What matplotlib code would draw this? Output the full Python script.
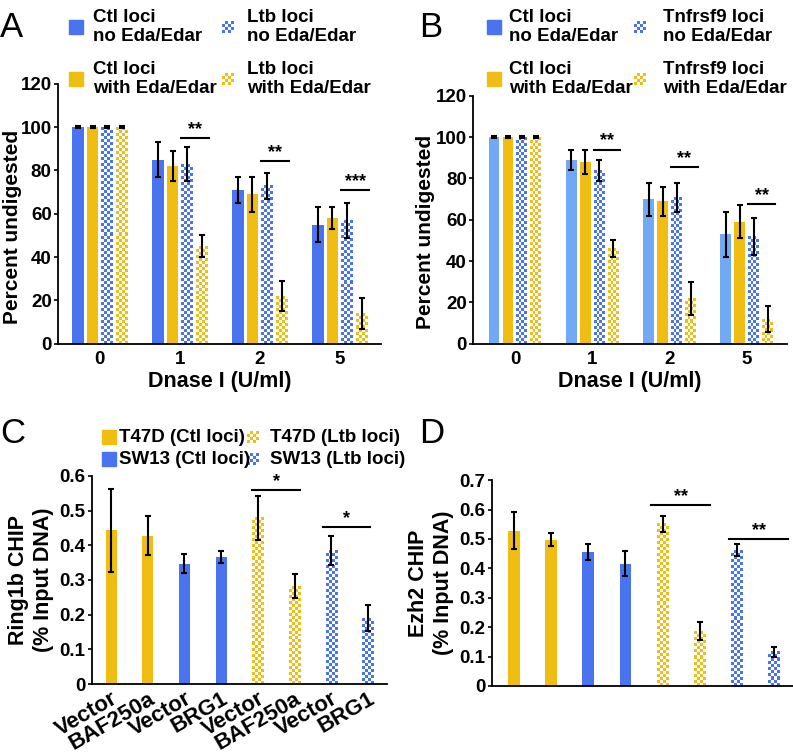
import numpy as np
import matplotlib
matplotlib.use('Agg')
import matplotlib.pyplot as plt
from matplotlib.colors import ListedColormap
from matplotlib.patches import Rectangle

plt.rcParams['font.family'] = ['Liberation Sans', 'DejaVu Sans']
plt.rcParams['font.weight'] = 'bold'

BLUE = '#4a73f0'
LIGHTBLUE = '#72a9f4'
GOLD = '#f0bd12'

# ---- panel A / B data (Dnase I sensitivity) ----
dnase = ['0', '1', '2', '5']

a_ctl_no = [100, 85, 71, 55]
a_ctl_no_err = [0.4, 8, 6, 8]
a_ctl_with = [100, 82, 69, 58]
a_ctl_with_err = [0.4, 7, 8, 5]
a_ltb_no = [100, 83, 73, 57]
a_ltb_no_err = [0.4, 8, 6, 8]
a_ltb_with = [100, 45, 22, 14]
a_ltb_with_err = [0.4, 5, 7, 7]
a_sig = ['', '**', '**', '***']
a_sig_y = [None, 95, 84.5, 71]

b_ctl_no = [100, 89, 70, 53]
b_ctl_no_err = [0.4, 5, 8, 11]
b_ctl_with = [100, 88, 69, 59]
b_ctl_with_err = [0.4, 6, 7, 8]
b_tnf_no = [100, 84, 71, 52]
b_tnf_no_err = [0.4, 5, 7, 9]
b_tnf_with = [100, 46, 22, 12]
b_tnf_with_err = [0.4, 4, 8, 6.5]
b_sig = ['', '**', '**', '**']
b_sig_y = [None, 94, 85.5, 67.5]

# ---- panel C / D data (ChIP) ----
chip_labels = ['Vector', 'BAF250a', 'Vector', 'BRG1', 'Vector', 'BAF250a', 'Vector', 'BRG1']
chip_colors = [GOLD, GOLD, BLUE, BLUE, GOLD, GOLD, BLUE, BLUE]
chip_checker = [False, False, False, False, True, True, True, True]

ring1b = [0.443, 0.428, 0.347, 0.366, 0.479, 0.282, 0.386, 0.19]
ring1b_err = [0.12, 0.057, 0.027, 0.017, 0.064, 0.035, 0.042, 0.037]
ezh2 = [0.528, 0.497, 0.457, 0.416, 0.551, 0.187, 0.462, 0.116]
ezh2_err = [0.062, 0.022, 0.027, 0.043, 0.026, 0.032, 0.021, 0.017]


def checker(ax, x, h, w, color, px=3.0, ncols=4):
    y0, y1 = ax.get_ylim()
    hpx = ax.get_window_extent().height
    nrows = max(1, int(round(h / (px * (y1 - y0) / hpx))))
    arr = np.add.outer(np.arange(nrows), np.arange(ncols)) % 2
    ax.imshow(arr, extent=(x - w / 2, x + w / 2, 0, h), aspect='auto',
              interpolation='nearest', origin='lower',
              cmap=ListedColormap(['white', color]), zorder=2)


def style(ax):
    for s in ['top', 'right']:
        ax.spines[s].set_visible(False)
    ax.spines['left'].set_linewidth(1.3)
    ax.spines['bottom'].set_linewidth(1.3)
    ax.tick_params(axis='x', length=0, labelsize=13.5, pad=5)
    ax.tick_params(axis='y', length=3, width=1.2, labelsize=13.5, direction='out', pad=1.5)


def sig_line(ax, x0, x1, y, txt):
    ax.plot([x0, x1], [y, y], color='black', lw=1.5, zorder=3)
    ax.text((x0 + x1) / 2, y, txt, ha='center', va='bottom', fontsize=13, fontweight='bold')


fig = plt.figure(figsize=(7.93, 7.54), dpi=100)

# ---------------- A and B ----------------
def dnase_panel(rect, series, errs, colors, checks, sig, sig_y, off, bw, xlim, labx):
    ax = fig.add_axes(rect)
    ax.set_xlim(*xlim)
    ax.set_ylim(0, 120)
    x = np.arange(len(dnase))
    for k, (vals, err, c, chk) in enumerate(zip(series, errs, colors, checks)):
        xs = x + (k - 1.5) * off
        if chk:
            for xi, v in zip(xs, vals):
                checker(ax, xi, v, bw, c)
        else:
            ax.bar(xs, vals, width=bw, color=c, zorder=2)
        ax.errorbar(xs, vals, yerr=err, fmt='none', ecolor='black', elinewidth=1.5,
                    capsize=2.5, capthick=1.5, zorder=4)
    for i in range(len(dnase)):
        if sig[i]:
            sig_line(ax, i + 0.5 * off - bw / 2, i + 1.5 * off + bw / 2 + 0.02, sig_y[i], sig[i])
    ax.set_xlim(*xlim)
    ax.set_ylim(0, 120)
    ax.set_xticks(x)
    ax.set_xticklabels(dnase)
    ax.set_yticks(range(0, 121, 20))
    style(ax)
    ax.set_xlabel('Dnase I (U/ml)', fontsize=15.5, fontweight='bold', labelpad=2)
    ax.set_ylabel('Percent undigested', fontsize=15, fontweight='bold')
    ax.yaxis.set_label_coords(labx, 0.45)
    return ax

axA = dnase_panel([0.073, 0.544, 0.407, 0.345],
                  [a_ctl_no, a_ctl_with, a_ltb_no, a_ltb_with],
                  [a_ctl_no_err, a_ctl_with_err, a_ltb_no_err, a_ltb_with_err],
                  [BLUE, GOLD, BLUE, GOLD], [False, False, True, True],
                  a_sig, a_sig_y, 0.184, 0.146, (-0.525, 3.51), -0.11)
axB = dnase_panel([0.5965, 0.544, 0.396, 0.329],
                  [b_ctl_no, b_ctl_with, b_tnf_no, b_tnf_with],
                  [b_ctl_no_err, b_ctl_with_err, b_tnf_no_err, b_tnf_with_err],
                  [LIGHTBLUE, GOLD, BLUE, GOLD], [False, False, True, True],
                  b_sig, b_sig_y, 0.181, 0.142, (-0.543, 3.52), -0.12)

# ---------------- C and D ----------------
def chip_panel(rect, vals, err, ylim, ylabel, bw, xlim, labels):
    ax = fig.add_axes(rect)
    ax.set_xlim(*xlim)
    ax.set_ylim(*ylim)
    x = np.arange(len(vals))
    for xi, v, c, chk in zip(x, vals, chip_colors, chip_checker):
        if chk:
            checker(ax, xi, v, bw, c)
        else:
            ax.bar(xi, v, width=bw, color=c, zorder=2)
    ax.errorbar(x, vals, yerr=err, fmt='none', ecolor='black', elinewidth=1.5,
                capsize=2.5, capthick=1.5, zorder=4)
    ax.set_xlim(*xlim)
    ax.set_ylim(*ylim)
    ticks = np.round(np.arange(0, ylim[1] + 0.001, 0.1), 1)
    ax.set_yticks(ticks)
    ax.set_yticklabels(['0'] + [f'{t:.1f}' for t in ticks[1:]])
    ax.set_xticks(x)
    style(ax)
    if labels:
        ax.set_xticklabels(chip_labels, rotation=30, ha='right', rotation_mode='anchor',
                           fontsize=16)
        ax.tick_params(axis='x', pad=3)
    else:
        ax.set_xticklabels([])
    ax.set_ylabel(ylabel, fontsize=15.5, fontweight='bold', labelpad=4, linespacing=1.25)
    return ax

axC = chip_panel([0.116, 0.0928, 0.372, 0.276], ring1b, ring1b_err, (0, 0.6),
                 'Ring1b CHIP\n(% Input DNA)', 0.3, (-0.52, 7.52), True)
sig_line(axC, 3.85, 5.15, 0.56, '*')
sig_line(axC, 5.78, 7.05, 0.452, '*')

axD = chip_panel([0.6204, 0.0902, 0.38, 0.273], ezh2, ezh2_err, (0, 0.7),
                 'Ezh2 CHIP\n(% Input DNA)', 0.31, (-0.59, 7.52), False)
sig_line(axD, 3.7, 5.27, 0.615, '**')
sig_line(axD, 5.8, 7.38, 0.5, '**')

# ---------------- legends (pixel overlay) ----------------
ov = fig.add_axes([0, 0, 1, 1])
ov.set_xlim(0, 793)
ov.set_ylim(754, 0)
ov.axis('off')


def leg_item(x, y, color, chk, text, tx, size=14):
    if chk:
        n = 4
        arr = np.add.outer(np.arange(n), np.arange(n)) % 2
        ov.imshow(arr, extent=(x - 6, x + 6, y + 6, y - 6), aspect='auto',
                  interpolation='nearest', cmap=ListedColormap(['white', color]))
    else:
        ov.add_patch(Rectangle((x - size / 2, y - size / 2), size, size, color=color))
    return ov.text(tx, y, text, ha='left', va='center', fontsize=13.5,
                   fontweight='bold', linespacing=1.15)

leg_item(76, 27, BLUE, False, 'Ctl loci\nno Eda/Edar', 93)
leg_item(76, 79, GOLD, False, 'Ctl loci\nwith Eda/Edar', 93)
leg_item(228, 27, BLUE, True, 'Ltb loci\nno Eda/Edar', 247)
leg_item(228, 79, GOLD, True, 'Ltb loci\nwith Eda/Edar', 247)

leg_item(494, 27, BLUE, False, 'Ctl loci\nno Eda/Edar', 509)
leg_item(494, 79, GOLD, False, 'Ctl loci\nwith Eda/Edar', 509)
leg_item(640, 27, BLUE, True, 'Tnfrsf9 loci\nno Eda/Edar', 663)
leg_item(640, 79, GOLD, True, 'Tnfrsf9 loci\nwith Eda/Edar', 663)

leg_item(109, 437, GOLD, False, 'T47D (Ctl loci)', 119, 14)
leg_item(109, 459, BLUE, False, 'SW13 (Ctl loci)', 119, 14)
leg_item(253, 437, GOLD, True, 'T47D (Ltb loci)', 270)
leg_item(253, 459, BLUE, True, 'SW13 (Ltb loci)', 270)
ov.set_xlim(0, 793)
ov.set_ylim(754, 0)

# panel letters
for lab, x, y in [('A', 0, 37), ('B', 419, 37), ('C', 0, 443), ('D', 419, 443)]:
    ov.text(x, y, lab, fontsize=25, fontweight='normal', ha='left', va='baseline')

fig.savefig('out.png', dpi=100)
